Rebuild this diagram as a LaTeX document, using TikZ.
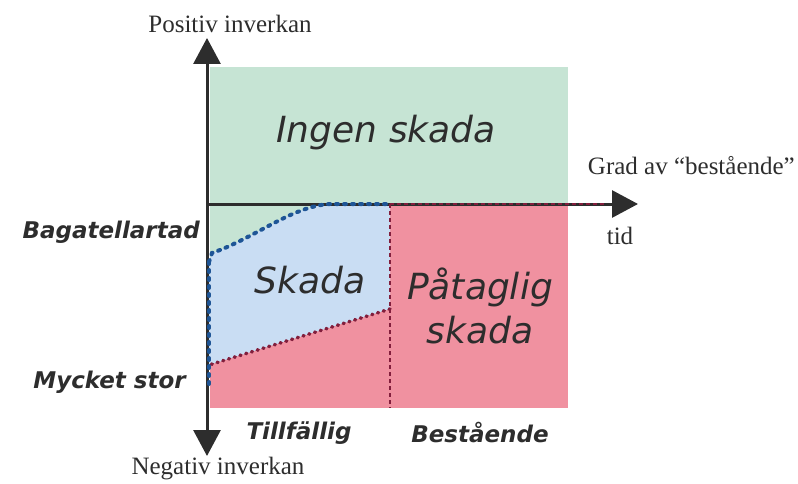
\documentclass[tikz,border=0pt]{standalone}
\usepackage{fontspec}
\setmainfont{Liberation Serif}
\newfontfamily\comicfont{DejaVu Sans}
\usetikzlibrary{arrows.meta}
\definecolor{zgreen}{RGB}{198,228,212}
\definecolor{zblue}{RGB}{201,221,243}
\definecolor{zred}{RGB}{240,145,160}
\definecolor{zdot}{RGB}{30,85,150}
\definecolor{zdash}{RGB}{130,30,60}
\definecolor{ztext}{RGB}{45,45,45}
\begin{document}
\begin{tikzpicture}[x=1pt,y=-1pt,
  axis/.style={line width=3pt,draw=ztext,-{Triangle[length=26pt,width=27pt]}},
  bigl/.style={text=ztext,font=\comicfont\itshape\fontsize{36}{44}\selectfont,inner sep=0pt},
  midl/.style={text=ztext,font=\comicfont\bfseries\itshape\fontsize{23}{26}\selectfont,inner sep=0pt},
  serl/.style={text=ztext,font=\fontsize{25}{28}\selectfont,inner sep=0pt},
  blueline/.style={zdot,line width=4pt,dash pattern=on 2pt off 6pt,line cap=round},
  redline/.style={zdash,line width=2pt,dash pattern=on 4pt off 3pt},
  diagline/.style={zdash,line width=3.5pt,dash pattern=on 1pt off 5pt,line cap=round}]
\useasboundingbox (0,0) rectangle (798,484);
% regions
\fill[zgreen] (210,67) rectangle (568,204);
\fill[zgreen] (210,204) rectangle (390,280);
\fill[zred] (390,204) rectangle (568,408);
\fill[zred] (210,300) rectangle (390,408);
\fill[zblue] (209,262) -- (212,253) .. controls (255,238) and (292,206) .. (330,204) -- (390,204) -- (390,309) -- (209,365) -- cycle;
% coordinates
\coordinate (o) at (207,204);
\coordinate (top) at (207,38);
\coordinate (bot) at (207,456);
\coordinate (right) at (638,204);
\coordinate (c1) at (209,262);
\coordinate (c0) at (212,253);
\coordinate (c2) at (330,204);
\coordinate (c3) at (390,204);
\coordinate (d1) at (390,309);
\coordinate (d2) at (209,365);
\coordinate (d3) at (209,385);
\coordinate (v1) at (390,408);
\coordinate (h2) at (605,204);
% axes
\draw[axis] (o) -- (top);
\draw[axis] (o) -- (bot);
\draw[axis] (o) -- (right);
% boundaries
\draw[redline] (c3) -- (v1);
\draw[redline] (c3) -- (h2);
\draw[diagline] (d1) -- (d2);
\draw[blueline] (c1) -- (c0) .. controls (255,238) and (292,206) .. (c2) -- (c3);
\draw[blueline] (c1) -- (d3);
% labels
\node[serl] (pos) at (230,24) {Positiv inverkan};
\node[serl] (neg) at (218,469) {Negativ inverkan};
\node[serl,anchor=east] (grad) at (795,166) {Grad av “bestående”};
\node[serl] (tid) at (620,236) {tid};
\node[bigl] (ingen) at (386,133) {Ingen skada};
\node[bigl] (skada) at (310,280) {Skada};
\node[bigl,align=center] (pat) at (480,306) {Påtaglig\\skada};
\node[midl,anchor=east] (bag) at (200,232) {Bagatellartad};
\node[midl,anchor=east] (myc) at (186,382) {Mycket stor};
\node[midl] (till) at (299,433) {Tillfällig};
\node[midl] (best) at (480,433) {Bestående};
\end{tikzpicture}
\end{document}
